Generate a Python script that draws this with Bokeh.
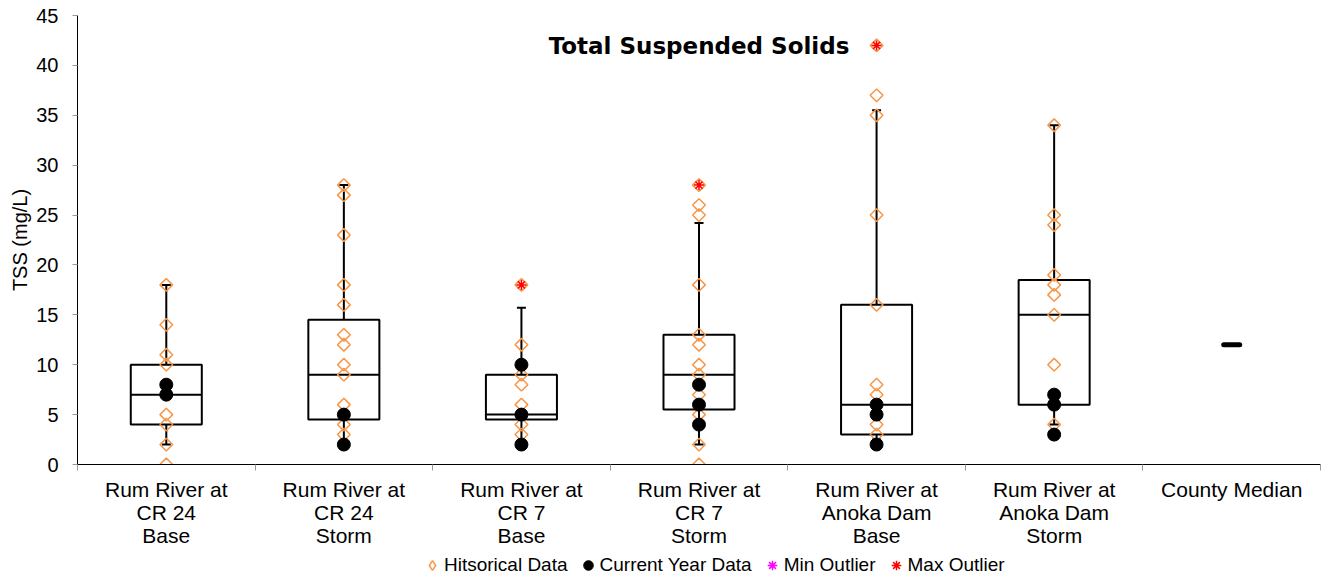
import numpy as np
from bokeh.plotting import figure
from bokeh.layouts import column
from bokeh.models import (ColumnDataSource, Range1d, LinearAxis,
                          FixedTicker, Legend, LegendItem, Label, SingleIntervalTicker)
from bokeh.embed import file_html
from bokeh.resources import INLINE

# ---------------- data ----------------
categories = [
    "Rum River at\nCR 24\nBase",
    "Rum River at\nCR 24\nStorm",
    "Rum River at\nCR 7\nBase",
    "Rum River at\nCR 7\nStorm",
    "Rum River at\nAnoka Dam\nBase",
    "Rum River at\nAnoka Dam\nStorm",
    "County Median",
]
sites = categories[:6]

box_q1 = [4, 4.5, 4.5, 5.5, 3, 6]
box_median = [7, 9, 5, 9, 6, 15]
box_q3 = [10, 14.5, 9, 13, 16, 18.5]
whisker_low = [2, 2, 2, 2, 2.5, 4]
whisker_high = [18, 28, 15.7, 24.2, 35.5, 34]
county_median = [12]

hist_cr24_base = [18, 14, 11, 10, 5, 4, 2, 0]
hist_cr24_storm = [28, 27, 23, 18, 16, 13, 12, 10, 9, 6, 4, 3]
hist_cr7_base = [18, 12, 9, 8, 6, 4, 3]
hist_cr7_storm = [28, 26, 25, 18, 13, 12, 10, 9, 7, 5, 2, 0]
hist_anoka_base = [42, 37, 35, 25, 16, 8, 7, 4, 3]
hist_anoka_storm = [34, 25, 24, 19, 18, 17, 15, 10, 4]

cur_cr24_base = [8, 7]
cur_cr24_storm = [5, 2]
cur_cr7_base = [10, 5, 2]
cur_cr7_storm = [8, 6, 4]
cur_anoka_base = [6, 5, 2]
cur_anoka_storm = [7, 6, 3]

max_outlier_sites = [categories[2], categories[3], categories[4]]
max_outlier_values = [18, 28, 42]
min_outlier_sites = []      # no minimum outliers
min_outlier_values = []

legend_labels = ["Hitsorical Data", "Current Year Data", "Min Outlier", "Max Outlier"]

hist_all = [hist_cr24_base, hist_cr24_storm, hist_cr7_base, hist_cr7_storm,
            hist_anoka_base, hist_anoka_storm]
cur_all = [cur_cr24_base, cur_cr24_storm, cur_cr7_base, cur_cr7_storm,
           cur_anoka_base, cur_anoka_storm]

# category -> position on a numeric axis (category centres at i + 0.5)
pos = {c: i + 0.5 for i, c in enumerate(categories)}
BOX_W = 0.4

hist_x = [pos[s] for s, vals in zip(sites, hist_all) for _ in vals]
hist_y = [v for vals in hist_all for v in vals]
cur_x = [pos[s] for s, vals in zip(sites, cur_all) for _ in vals]
cur_y = [v for vals in cur_all for v in vals]

NAN = float("nan")

# ---------------- styles ----------------
FONT = "Liberation Sans"
HIST_COLOR = "#F79646"
MIN_COLOR = "#FF00FF"
MAX_COLOR = "#FF0000"

# ---------------- main figure ----------------
p = figure(width=1325, height=552,
           x_range=Range1d(0, len(categories)), y_range=Range1d(0, 45),
           output_backend="svg", toolbar_location=None,
           x_axis_location=None, y_axis_location="left",
           min_border_left=77, min_border_right=5, min_border_top=15,
           min_border_bottom=88, outline_line_color=None)
p.grid.visible = False

yax = p.yaxis[0]
yax.ticker = SingleIntervalTicker(interval=5, num_minor_ticks=0)
yax.minor_tick_line_color = None
yax.major_tick_in = 0
yax.major_tick_out = 5
yax.major_tick_line_color = "#999999"
yax.axis_line_color = "black"
yax.major_label_text_font = FONT
yax.major_label_text_font_size = "20px"
yax.major_label_text_color = "black"
yax.major_label_standoff = 14
yax.axis_label = "TSS (mg/L)"
yax.axis_label_text_font = FONT
yax.axis_label_text_font_size = "20px"
yax.axis_label_text_font_style = "normal"
yax.axis_label_text_color = "black"
yax.axis_label_standoff = 2

bound_axis = LinearAxis(ticker=FixedTicker(ticks=list(range(len(categories) + 1))),
                        major_label_text_font_size="0px", major_label_standoff=0,
                        major_label_overrides={i: "" for i in range(len(categories) + 1)},
                        major_tick_in=0, major_tick_out=6,
                        major_tick_line_color="#999999",
                        minor_tick_line_color=None, axis_line_color="black")
cat_axis = LinearAxis(ticker=FixedTicker(ticks=[pos[c] for c in categories]),
                      major_label_overrides={pos[c]: c for c in categories},
                      axis_line_color=None, major_tick_line_color=None,
                      minor_tick_line_color=None,
                      major_tick_in=0, major_tick_out=0,
                      major_label_standoff=7,
                      major_label_text_font=FONT,
                      major_label_text_font_size="21px",
                      major_label_text_line_height=1.0,
                      major_label_text_color="black")
p.add_layout(bound_axis, "below")
p.add_layout(cat_axis, "below")

src = ColumnDataSource(dict(x=[pos[s] for s in sites],
                            xl=[pos[s] - BOX_W / 2 for s in sites],
                            xr=[pos[s] + BOX_W / 2 for s in sites],
                            q1=box_q1, med=box_median, q3=box_q3,
                            lo=whisker_low, hi=whisker_high))
p.segment(x0="x", x1="x", y0="q3", y1="hi", line_color="black", line_width=2, source=src)
p.segment(x0="x", x1="x", y0="q1", y1="lo", line_color="black", line_width=2, source=src)
p.scatter(x="x", y="hi", marker="dash", size=9, line_color="black", line_width=2, source=src)
p.scatter(x="x", y="lo", marker="dash", size=9, line_color="black", line_width=2, source=src)
p.vbar(x="x", bottom="q1", top="q3", width=BOX_W, fill_color=None,
       line_color="black", line_width=2, source=src)
p.segment(x0="xl", x1="xr", y0="med", y1="med", line_color="black", line_width=2, source=src)

p.scatter(x=hist_x, y=hist_y, marker="square", angle=np.pi / 4, size=9,
          fill_color=None, line_color=HIST_COLOR, line_width=1.5)
p.scatter(x=cur_x, y=cur_y, marker="circle", size=13, fill_color="black", line_color="black")
p.scatter(x=[pos[s] for s in min_outlier_sites], y=min_outlier_values,
          marker="asterisk", size=10, line_color=MIN_COLOR, line_width=1.5)
p.scatter(x=[pos[s] for s in max_outlier_sites], y=max_outlier_values,
          marker="asterisk", size=10, line_color=MAX_COLOR, line_width=1.5)

p.scatter(x=[pos[categories[6]]], y=county_median, marker="dash", size=16, line_width=5,
          line_color="black", line_cap="round")

p.add_layout(Label(x=len(categories) / 2, y=41.9, text="Total Suspended Solids",
                   text_align="center", text_baseline="middle", text_font="DejaVu Sans",
                   text_font_style="bold", text_font_size="23px", text_color="black"))

# ---------------- legend strip ----------------
pl = figure(width=1325, height=25, x_range=Range1d(0, 1), y_range=Range1d(0, 1),
            output_backend="svg", toolbar_location=None,
            x_axis_location=None, y_axis_location=None,
            min_border=0, outline_line_color=None)
pl.grid.visible = False
k_hist = pl.scatter(x=[NAN], y=[NAN], marker="diamond", size=9, fill_color=None,
                    line_color=HIST_COLOR, line_width=1.5)
k_cur = pl.scatter(x=[NAN], y=[NAN], marker="circle", size=13,
                   fill_color="black", line_color="black")
k_min = pl.scatter(x=[NAN], y=[NAN], marker="asterisk", size=10,
                   line_color=MIN_COLOR, line_width=1.5)
k_max = pl.scatter(x=[NAN], y=[NAN], marker="asterisk", size=10,
                   line_color=MAX_COLOR, line_width=1.5)
legend = Legend(items=[LegendItem(label=lab, renderers=[r]) for lab, r in
                       zip(legend_labels, [k_hist, k_cur, k_min, k_max])],
                orientation="horizontal", location=(343, 0),
                label_text_font=FONT, label_text_font_size="19px",
                label_text_color="black",
                glyph_width=24, glyph_height=24, label_standoff=-1, spacing=8,
                padding=0, margin=0, border_line_color=None, background_fill_alpha=0)
pl.add_layout(legend, "center")

layout = column(p, pl, spacing=0)
open("out.html", "w").write(file_html(layout, INLINE))
